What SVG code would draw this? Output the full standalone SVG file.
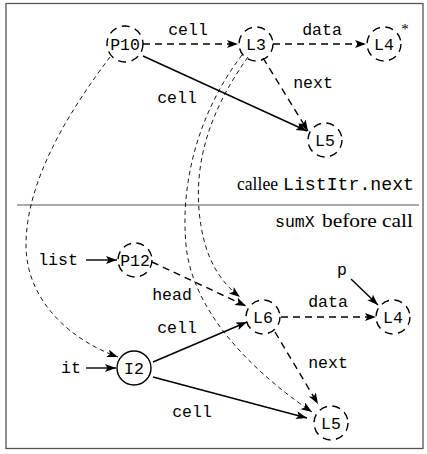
<svg xmlns="http://www.w3.org/2000/svg" width="427" height="454" viewBox="0 0 427 454">
<style>
.tt{font-family:"Liberation Mono","DejaVu Sans Mono",monospace;font-size:16.5px;fill:#000}
.node{fill:none;stroke:#000;stroke-width:1.4;stroke-dasharray:8 5.5}
.solidnode{fill:none;stroke:#000;stroke-width:1.4}
.e{fill:none;stroke:#000;stroke-width:1.4}
.ed{fill:none;stroke:#000;stroke-width:1.4;stroke-dasharray:7 5}
.ef{fill:none;stroke:#000;stroke-width:0.9;stroke-dasharray:4.5 3.5}
</style>
<defs>
<marker id="ah" markerUnits="userSpaceOnUse" markerWidth="14" markerHeight="10" refX="11" refY="4" orient="auto">
<path d="M0,0 L11,4 L0,8 L2.5,4 Z" fill="#000" stroke="none"/>
</marker>
</defs>
<rect x="6" y="3.5" width="417" height="445" fill="#fff" stroke="#555" stroke-width="1.3"/>
<line x1="17" y1="205" x2="419" y2="205" stroke="#555" stroke-width="1.2"/>
<g id="connectors">
<path class="ed" d="M143,44 L238,44" marker-end="url(#ah)"/>
<path class="ed" d="M273,44 L366,44" marker-end="url(#ah)"/>
<path class="ed" d="M263,58 L308,131" marker-end="url(#ah)"/>
<path class="e" d="M143,56 L307,131" marker-end="url(#ah)"/>
<path class="ef" d="M110,57 C70,110 26,180 26,245 C26,300 70,340 118,357" marker-end="url(#ah)"/>
<path class="ef" d="M242,55 C200,110 180,180 186,245 C192,310 250,370 312,412" marker-end="url(#ah)"/>
<path class="ef" d="M248,57 C210,110 195,160 199,210 C203,255 218,280 240,297" marker-end="url(#ah)"/>
<path class="e" d="M86,260 L117,260" marker-end="url(#ah)"/>
<path class="ed" d="M152,262 L246,306" marker-end="url(#ah)"/>
<path class="ed" d="M281,317 L376,317" marker-end="url(#ah)"/>
<path class="ed" d="M275,332 L318,404" marker-end="url(#ah)"/>
<path class="e" d="M153,362 L247,322" marker-end="url(#ah)"/>
<path class="e" d="M153,377 L307,418" marker-end="url(#ah)"/>
<path class="e" d="M86,368 L116,368" marker-end="url(#ah)"/>
<path class="e" d="M351,279 L378,305" marker-end="url(#ah)"/>
</g>
<g id="edge-labels">
<text class="tt" x="188" y="35" text-anchor="middle">cell</text>
<text class="tt" x="322" y="35" text-anchor="middle">data</text>
<text class="tt" x="313" y="88" text-anchor="middle">next</text>
<text class="tt" x="177" y="103" text-anchor="middle">cell</text>
<text class="tt" x="58" y="265" text-anchor="middle">list</text>
<text class="tt" x="172" y="300" text-anchor="middle">head</text>
<text class="tt" x="177" y="333" text-anchor="middle">cell</text>
<text class="tt" x="71" y="373" text-anchor="middle">it</text>
<text class="tt" x="328" y="307" text-anchor="middle">data</text>
<text class="tt" x="342" y="275" text-anchor="middle">p</text>
<text class="tt" x="328" y="368" text-anchor="middle">next</text>
<text class="tt" x="192" y="417" text-anchor="middle">cell</text>
</g>
<g id="captions">
<text x="237" y="190" font-family="'Liberation Serif','DejaVu Serif',serif" font-size="19" fill="#000" textLength="41" lengthAdjust="spacingAndGlyphs">callee</text>
<text x="283" y="190" font-family="'Liberation Mono','DejaVu Sans Mono',monospace" font-size="18" fill="#000" textLength="131" lengthAdjust="spacingAndGlyphs">ListItr.next</text>
<text x="275" y="227" font-family="'Liberation Mono','DejaVu Sans Mono',monospace" font-size="16.5" fill="#000">sumX</text>
<text x="322" y="227" font-family="'Liberation Serif','DejaVu Serif',serif" font-size="19" fill="#000" textLength="91" lengthAdjust="spacingAndGlyphs">before call</text>
</g>
<g id="P10"><circle class="node" cx="125" cy="44" r="18"/><text class="tt" x="125" y="50" text-anchor="middle">P10</text></g>
<g id="L3"><circle class="node" cx="256" cy="44" r="17"/><text class="tt" x="256" y="50" text-anchor="middle">L3</text></g>
<g id="L4-top"><circle class="node" cx="384" cy="44" r="17"/><text class="tt" x="384" y="50" text-anchor="middle">L4</text><text x="405" y="34" text-anchor="middle" font-family="'Liberation Serif','DejaVu Serif',serif" font-size="15" fill="#000">*</text></g>
<g id="L5-top"><circle class="node" cx="325" cy="140" r="17"/><text class="tt" x="325" y="146" text-anchor="middle">L5</text></g>
<g id="P12"><circle class="node" cx="135" cy="260" r="17"/><text class="tt" x="135" y="266" text-anchor="middle">P12</text></g>
<g id="L6"><circle class="node" cx="263" cy="317" r="17"/><text class="tt" x="263" y="323" text-anchor="middle">L6</text></g>
<g id="L4-bottom"><circle class="node" cx="393" cy="317" r="17"/><text class="tt" x="393" y="323" text-anchor="middle">L4</text></g>
<g id="I2"><circle class="solidnode" cx="134" cy="368" r="17"/><text class="tt" x="134" y="374" text-anchor="middle">I2</text></g>
<g id="L5-bottom"><circle class="node" cx="331" cy="423" r="17"/><text class="tt" x="331" y="429" text-anchor="middle">L5</text></g>
</svg>
